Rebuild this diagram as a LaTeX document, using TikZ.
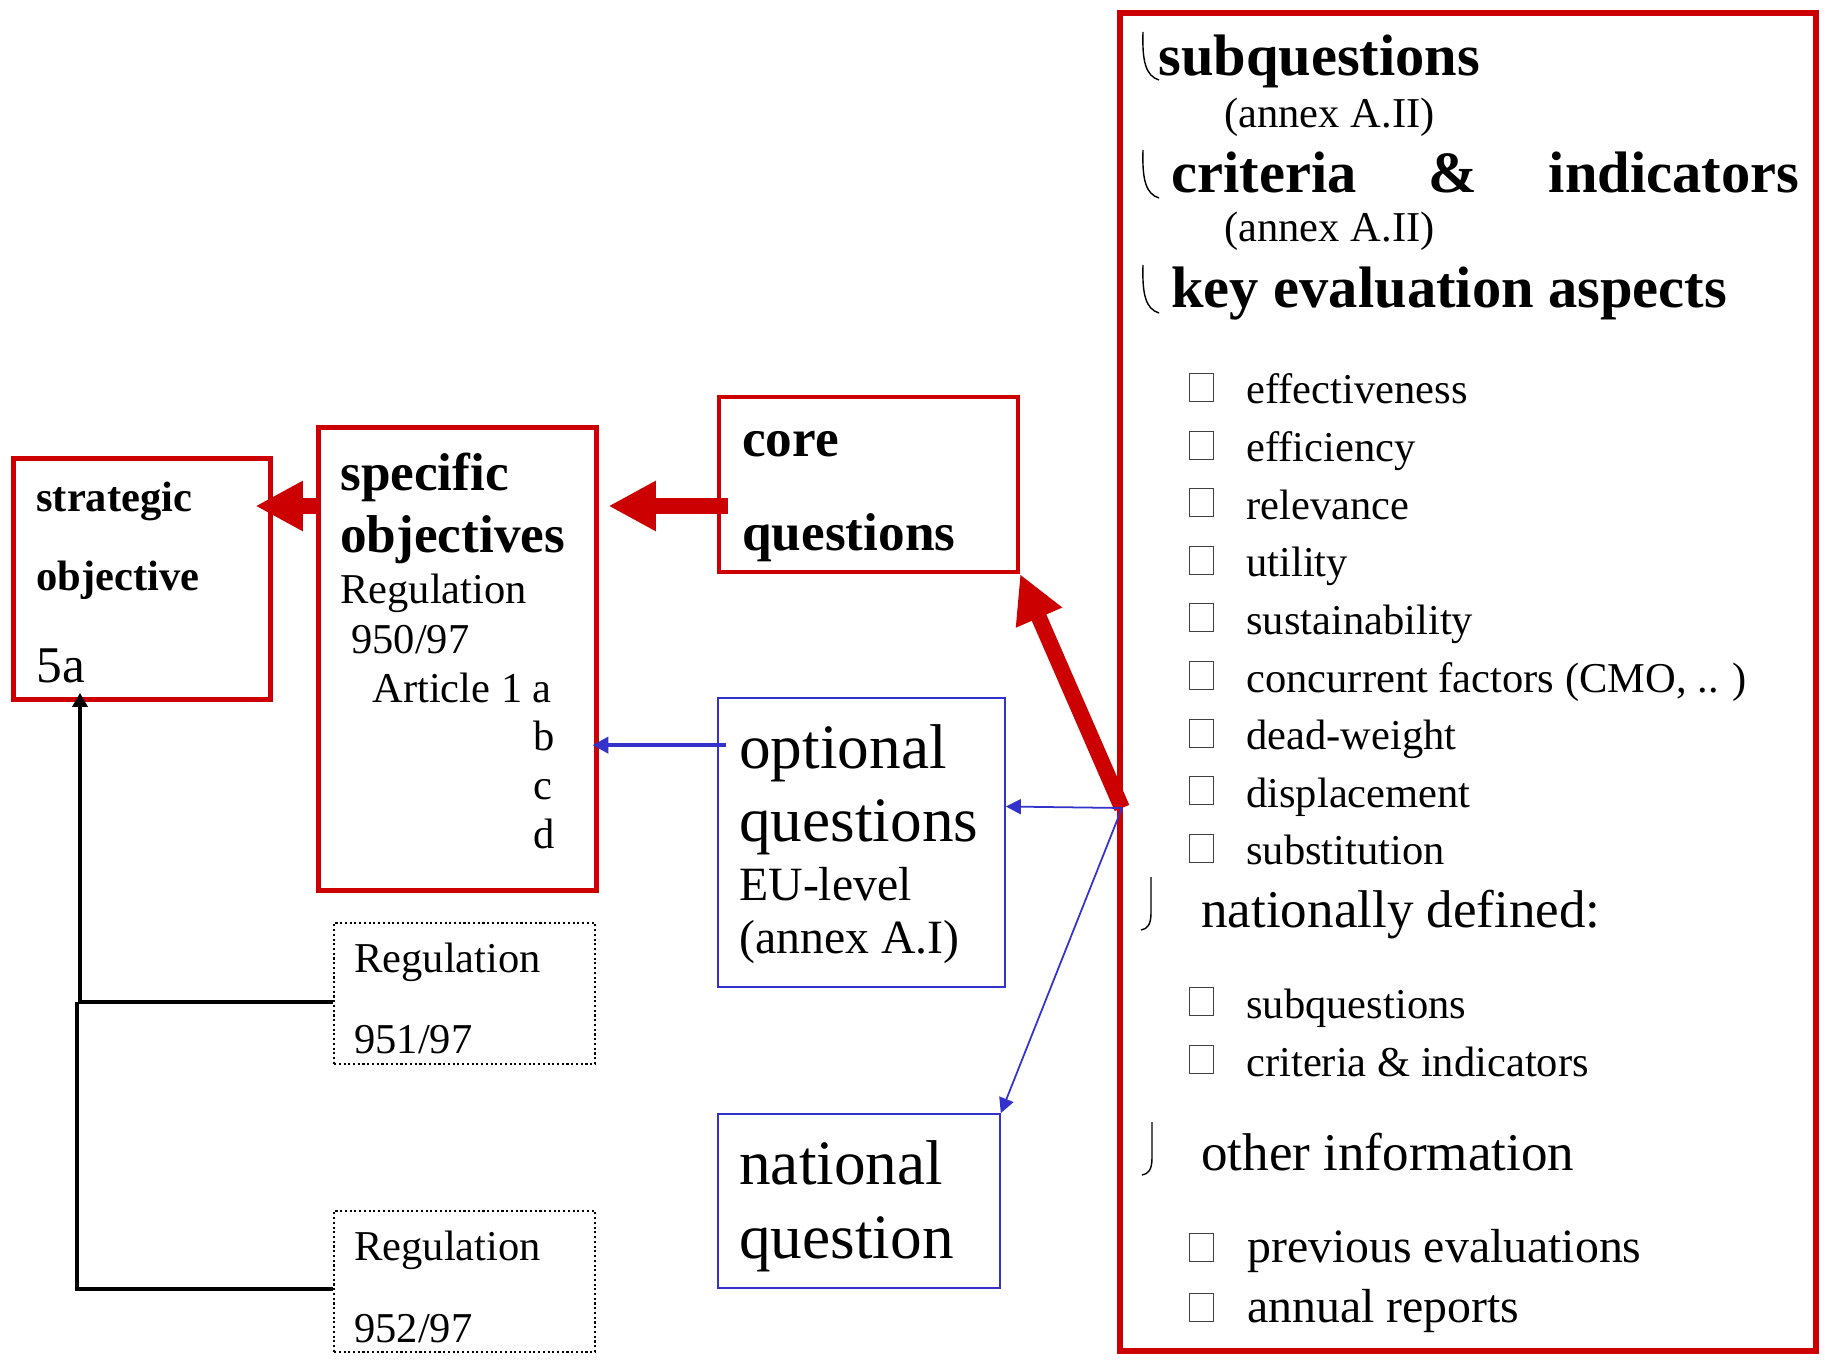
\documentclass[tikz,border=0pt]{standalone}
\usepackage{fontspec}
\setmainfont{Liberation Serif}
\usetikzlibrary{arrows.meta}

\definecolor{evalred}{RGB}{204,0,0}
\definecolor{evalblue}{RGB}{51,51,204}

\tikzset{
  txt/.style={anchor=base west, inner sep=0pt},
  f24/.style={txt, font=\fontsize{24.2}{29}\selectfont},
  f24b/.style={txt, font=\fontsize{24.2}{29}\selectfont\bfseries},
  f27/.style={txt, font=\fontsize{27.2}{32}\selectfont},
  f29/.style={txt, font=\fontsize{29.3}{35}\selectfont},
  f30/.style={txt, font=\fontsize{30.2}{36}\selectfont},
  f30b/.style={txt, font=\fontsize{30.3}{36}\selectfont\bfseries},
  f33b/.style={txt, font=\fontsize{33.3}{40}\selectfont\bfseries},
  f36/.style={txt, font=\fontsize{36}{43}\selectfont},
  redbox/.style={draw=evalred, line width=2.8pt, inner sep=0pt},
  bluebox/.style={draw=evalblue, line width=1pt, inner sep=0pt},
  regbox/.style={draw, line width=1.2pt, dash pattern=on 1.2pt off 1.5pt, inner sep=0pt},
  chk/.style={draw=black!75, line width=0.6pt, minimum width=0.48cm, minimum height=0.56cm, anchor=south west, inner sep=0pt},
  fatarrow/.style={evalred, line width=9pt, -{Triangle[length=0.95cm,width=0.94cm]}},
  bluearrow/.style={evalblue, line width=2.6pt, -{Triangle[length=0.32cm,width=0.32cm]}},
  thinblue/.style={evalblue, line width=1pt, -{Triangle[length=0.3cm,width=0.3cm]}},
  treeline/.style={black, line width=2.8pt},
  lhook/.pic={\draw[line width=0.8pt] (0,0) .. controls (-1,30) and (3,44) .. (16,48);},
  rhook/.pic={\draw[line width=0.8pt] (0,0) -- (0,36) .. controls (0,48) and (-4,52) .. (-10,53);}
}

\begin{document}
\begin{tikzpicture}[x=0.02cm, y=-0.02cm]
  \useasboundingbox (0,0) rectangle (1825,1361);

  % boxes
  \node[redbox, minimum width=5.14cm, minimum height=4.82cm] (strat) at (142,579) {};
  \node[redbox, minimum width=5.56cm, minimum height=9.26cm] (spec) at (457.5,659) {};
  \node[redbox, line width=2.4pt, minimum width=5.98cm, minimum height=3.5cm] (core) at (868.5,484.5) {};
  \node[bluebox, minimum width=5.74cm, minimum height=5.78cm] (optq) at (861.5,842.5) {};
  \node[bluebox, minimum width=5.64cm, minimum height=3.48cm] (natq) at (859,1201) {};
  \node[regbox, minimum width=5.22cm, minimum height=2.82cm] (reg1) at (464.5,993.5) {};
  \node[regbox, minimum width=5.22cm, minimum height=2.82cm] (reg2) at (464.5,1281.5) {};
  \node[redbox, line width=3.4pt, minimum width=13.92cm, minimum height=26.76cm] (info) at (1468,682) {};

  % left texts
  \node[f24b] (stratA) at (36,511) {strategic};
  \node[f24b] (stratB) at (36,590) {objective};
  \node[f29] (stratC) at (36,682) {5a};
  \node[f30b] (specA) at (340,491) {specific};
  \node[f30b] (specB) at (340,552) {objectives};
  \node[f24] (specC) at (340,603) {Regulation};
  \node[f24] (specD) at (351,653) {950/97};
  \node[f24] (specE) at (372,702) {Article 1 a};
  \node[f24] (specF) at (533,750) {b};
  \node[f24] (specG) at (533,799) {c};
  \node[f24] (specH) at (533,848) {d};
  \node[f30b] (coreA) at (742,457) {core};
  \node[f30b] (coreB) at (742,550) {questions};
  \node[f36] (optA) at (739,768) {optional};
  \node[f36] (optB) at (739,841) {questions};
  \node[f27] (optC) at (739,900) {EU-level};
  \node[f27] (optD) at (739,953) {(annex A.I)};
  \node[f36] (natA) at (739,1184) {national};
  \node[f36] (natB) at (739,1258) {question};
  \node[f24] (regA) at (354,972) {Regulation};
  \node[f24] (regB) at (354,1053) {951/97};
  \node[f24] (regC) at (354,1260) {Regulation};
  \node[f24] (regD) at (354,1342) {952/97};

  % right panel
  \pic at (1143,32) {lhook};
  \pic at (1143,150) {lhook};
  \pic at (1143,265) {lhook};
  \node[f33b] (subq) at (1158,76) {subquestions};
  \node[f24] (annA) at (1224,128) {(annex A.II)};
  \node[f33b] (crit) at (1171,193) {\makebox[12.56cm][l]{criteria\hfill\&\hfill indicators}};
  \node[f24] (annB) at (1224,242) {(annex A.II)};
  \node[f33b] (keya) at (1171,308) {key evaluation aspects};
  \foreach \asp [count=\i] in {effectiveness, efficiency, relevance, utility, sustainability,
      {concurrent factors (CMO, .. )}, dead-weight, displacement, substitution} {
    \node[chk] (box\i) at (1189,{402+57.6*(\i-1)}) {};
    \node[f24] (asp\i) at (1246,{404+57.6*(\i-1)}) {\asp};
  }
  \pic at (1151,877) {rhook};
  \node[f30] (natdef) at (1201,927) {nationally defined:};
  \node[chk] (boxn1) at (1189,1016) {};
  \node[f24] (natq1) at (1246,1018) {subquestions};
  \node[chk] (boxn2) at (1189,1074) {};
  \node[f24] (natq2) at (1246,1076) {criteria \& indicators};
  \pic at (1152,1122) {rhook};
  \node[f30] (other) at (1201,1170) {other information};
  \node[chk] (boxo1) at (1189,1262) {};
  \node[f27] (oth1) at (1247,1262) {previous evaluations};
  \node[chk] (boxo2) at (1189,1322) {};
  \node[f27] (oth2) at (1247,1322) {annual reports};

  % connectors
  \coordinate (lvl) at (0,506);
  \coordinate (ksrc) at (1122,808);
  \coordinate (j1) at (80,1002);
  \coordinate (j2) at (77,1289);
  \draw[fatarrow, shorten >=-0.35cm] (spec.west |- lvl) -- (strat.east |- lvl);
  \draw[fatarrow, shorten <=-0.22cm, shorten >=0.19cm] (core.west |- lvl) -- (spec.east |- lvl);
  \draw[fatarrow] (ksrc) -- (core.south east);
  \draw[thinblue] (ksrc) -- (optq.14);
  \draw[thinblue] (ksrc) -- (natq.north east);
  \draw[bluearrow, shorten <=-0.18cm, shorten >=-0.13cm] (optq.146) -- (spec.east |- optq.146);
  \draw[treeline, -{Triangle[length=0.28cm,width=0.3cm]}, shorten >=-0.18cm]
    (reg1.west |- j1) -- (j1) -- (j1 |- strat.south);
  \draw[treeline] (reg2.west |- j2) -- (j2) -- (j2 |- j1);
\end{tikzpicture}
\end{document}
